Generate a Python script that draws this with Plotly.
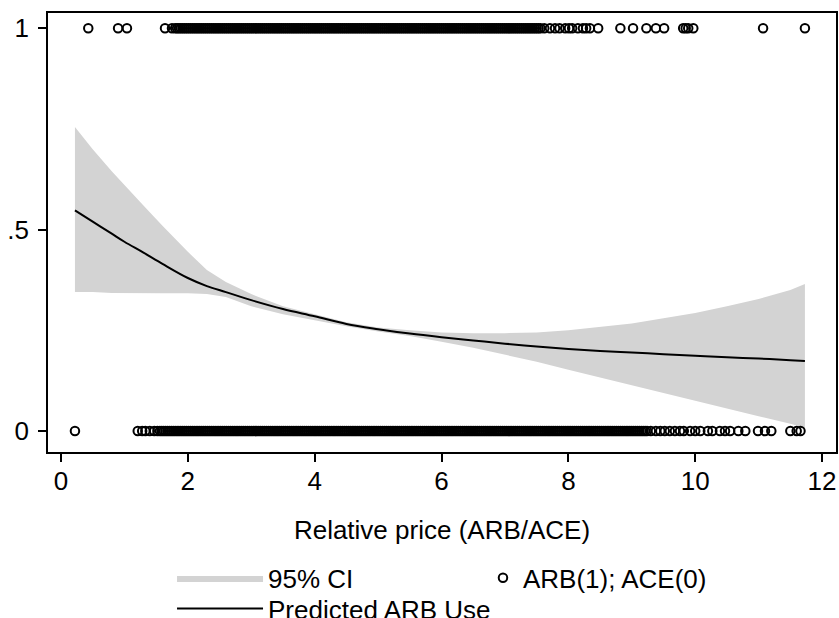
import plotly.graph_objects as go

# ---------------- data ----------------
# grid for fitted curve and 95% CI
grid_x = [0.22, 0.5, 0.8, 1.0, 1.3, 1.6, 2.0, 2.3, 2.6, 3.0, 3.5, 4.0, 4.5, 5.0, 5.5,
          6.0, 6.5, 7.0, 7.5, 8.0, 8.5, 9.0, 9.5, 10.0, 10.5, 11.0, 11.5, 11.73]
pred_y = [0.548, 0.52, 0.49, 0.47, 0.443, 0.415, 0.38, 0.36, 0.345, 0.325, 0.303, 0.285,
          0.266, 0.253, 0.242, 0.233, 0.225, 0.217, 0.21, 0.204, 0.199, 0.195, 0.191,
          0.187, 0.183, 0.18, 0.176, 0.174]
ci_upper = [0.755, 0.70, 0.645, 0.61, 0.56, 0.51, 0.445, 0.40, 0.37, 0.34, 0.31, 0.29,
            0.27, 0.257, 0.25, 0.245, 0.243, 0.243, 0.245, 0.25, 0.258, 0.267, 0.28,
            0.293, 0.31, 0.328, 0.35, 0.365]
ci_lower = [0.345, 0.345, 0.343, 0.342, 0.342, 0.342, 0.342, 0.34, 0.333, 0.31, 0.29,
            0.275, 0.26, 0.247, 0.236, 0.222, 0.207, 0.19, 0.172, 0.152, 0.133, 0.113,
            0.094, 0.075, 0.056, 0.037, 0.018, 0.008]

# observed relative prices (hundredths) for ARB users (y = 1)
arb_x_hundredths = [
    43, 90, 104, 164, 175,
    180, 183, 186, 189, 192, 195, 198, 201, 204, 207, 210, 213, 216, 219, 222, 225, 228, 231, 234, 237,
    240, 243, 246, 249, 252, 255, 258, 261, 264, 267, 270, 273, 276, 279, 282, 285, 288, 291, 294, 297,
    300, 303, 306, 309, 312, 315, 318, 321, 324, 327, 330, 333, 336, 339, 342, 345, 348, 351, 354, 357,
    360, 363, 366, 369, 372, 375, 378, 381, 384, 387, 390, 393, 396, 399, 402, 405, 408, 411, 414, 417,
    420, 423, 426, 429, 432, 435, 438, 441, 444, 447, 450, 453, 456, 459, 462, 465, 468, 471, 474, 477,
    480, 483, 486, 489, 492, 495, 498, 501, 504, 507, 510, 513, 516, 519, 522, 525, 528, 531, 534, 537,
    540, 543, 546, 549, 552, 555, 558, 561, 564, 567, 570, 573, 576, 579, 582, 585, 588, 591, 594, 597,
    600, 603, 606, 609, 612, 615, 618, 621, 624, 627, 630, 633, 636, 639, 642, 645, 648, 651, 654, 657,
    660, 663, 666, 669, 672, 675, 678, 681, 684, 687, 690, 693, 696, 699, 702, 705, 708, 711, 714, 717,
    720, 723, 726, 729, 732, 735, 738, 741, 744, 747, 750, 753, 756,
    762, 771, 779, 786, 795, 801, 806, 815, 823, 828, 834, 847,
    882, 902, 923, 938, 951, 981, 985, 989, 997, 1107, 1173,
]

# observed relative prices (hundredths) for ACE users (y = 0)
ace_x_hundredths = [
    22, 121, 128, 133, 140, 147, 152,
    156, 159, 162, 165, 168, 171, 174, 177,
    180, 183, 186, 189, 192, 195, 198, 201, 204, 207, 210, 213, 216, 219, 222, 225, 228, 231, 234, 237,
    240, 243, 246, 249, 252, 255, 258, 261, 264, 267, 270, 273, 276, 279, 282, 285, 288, 291, 294, 297,
    300, 303, 306, 309, 312, 315, 318, 321, 324, 327, 330, 333, 336, 339, 342, 345, 348, 351, 354, 357,
    360, 363, 366, 369, 372, 375, 378, 381, 384, 387, 390, 393, 396, 399, 402, 405, 408, 411, 414, 417,
    420, 423, 426, 429, 432, 435, 438, 441, 444, 447, 450, 453, 456, 459, 462, 465, 468, 471, 474, 477,
    480, 483, 486, 489, 492, 495, 498, 501, 504, 507, 510, 513, 516, 519, 522, 525, 528, 531, 534, 537,
    540, 543, 546, 549, 552, 555, 558, 561, 564, 567, 570, 573, 576, 579, 582, 585, 588, 591, 594, 597,
    600, 603, 606, 609, 612, 615, 618, 621, 624, 627, 630, 633, 636, 639, 642, 645, 648, 651, 654, 657,
    660, 663, 666, 669, 672, 675, 678, 681, 684, 687, 690, 693, 696, 699, 702, 705, 708, 711, 714, 717,
    720, 723, 726, 729, 732, 735, 738, 741, 744, 747, 750, 753, 756,
    759, 762, 765, 768, 771, 774, 777, 780, 783, 786, 789, 792, 795, 798, 801, 804, 807, 810, 813, 816,
    819, 822, 825, 828, 831, 834, 837, 840, 843, 846, 849, 852, 855, 858, 861, 864, 867, 870, 873, 876,
    879, 882, 885, 888, 891, 894, 897, 900, 903, 906, 909, 912, 915, 918, 921, 924,
    930, 938, 945, 952, 960, 968, 976, 982,
    992, 1000, 1008, 1020, 1027, 1039, 1047, 1055, 1068, 1079, 1099, 1110, 1120, 1150, 1160, 1166,
]

x_tick_vals = [0, 2, 4, 6, 8, 10, 12]
y_tick_vals = [0, 0.5, 1]
y_tick_text = ["0", ".5", "1"]

# ---------------- figure ----------------
arb_x = [v / 100 for v in arb_x_hundredths]
ace_x = [v / 100 for v in ace_x_hundredths]
obs_x = arb_x + ace_x
obs_y = [1] * len(arb_x) + [0] * len(ace_x)

FONT = "Liberation Sans, Arial, sans-serif"
FS = 26

fig = go.Figure()

fig.add_trace(go.Scatter(
    x=grid_x + grid_x[::-1],
    y=ci_upper + ci_lower[::-1],
    fill="toself",
    fillcolor="#d3d3d3",
    line=dict(width=0, color="#d3d3d3"),
    mode="lines",
    name="95% CI",
    legend="legend",
    hoverinfo="skip",
))

fig.add_trace(go.Scatter(
    x=obs_x, y=obs_y,
    mode="markers",
    marker=dict(symbol="circle-open", size=8.5, color="black", line=dict(width=2, color="black")),
    name="ARB(1); ACE(0)",
    legend="legend2",
))

fig.add_trace(go.Scatter(
    x=grid_x, y=pred_y,
    mode="lines",
    line=dict(color="black", width=2, shape="spline"),
    name="Predicted ARB Use",
    legend="legend3",
))

legend_common = dict(
    xanchor="left", yanchor="middle", orientation="v",
    font=dict(family=FONT, size=FS, color="black"),
    bgcolor="rgba(0,0,0,0)", borderwidth=0,
)

fig.update_layout(
    width=839, height=618,
    margin=dict(l=48, r=3, t=13, b=166, autoexpand=False),
    paper_bgcolor="white",
    plot_bgcolor="white",
    font=dict(family=FONT, size=FS, color="black"),
    showlegend=True,
    legend=dict(x=0.1574, y=-0.2872, itemwidth=86, **legend_common),
    legend3=dict(x=0.1574, y=-0.3565, itemwidth=86, **legend_common),
    legend2=dict(x=0.552, y=-0.2868, itemwidth=30, **legend_common),
)

fig.update_xaxes(
    range=[-0.205, 12.22],
    tickvals=x_tick_vals,
    ticks="outside", ticklen=8, tickwidth=1.5, tickcolor="black",
    ticklabelstandoff=-3,
    showline=True, linecolor="black", linewidth=1.5, mirror=True,
    showgrid=False, zeroline=False, automargin=False,
    title=dict(text="Relative price (ARB/ACE)", standoff=26,
               font=dict(family=FONT, size=FS, color="black")),
    tickfont=dict(family=FONT, size=FS, color="black"),
)

fig.update_yaxes(
    range=[-0.052, 1.038],
    tickvals=y_tick_vals, ticktext=y_tick_text,
    ticks="outside", ticklen=8, tickwidth=1.5, tickcolor="black",
    ticklabelstandoff=4,
    showline=True, linecolor="black", linewidth=1.5, mirror=True,
    showgrid=False, zeroline=False, automargin=False,
    tickfont=dict(family=FONT, size=FS, color="black"),
)

fig.write_html(
    "out.html",
    config={"displayModeBar": False},
    post_script="document.body.style.margin='0px';document.body.style.overflow='hidden';",
)
